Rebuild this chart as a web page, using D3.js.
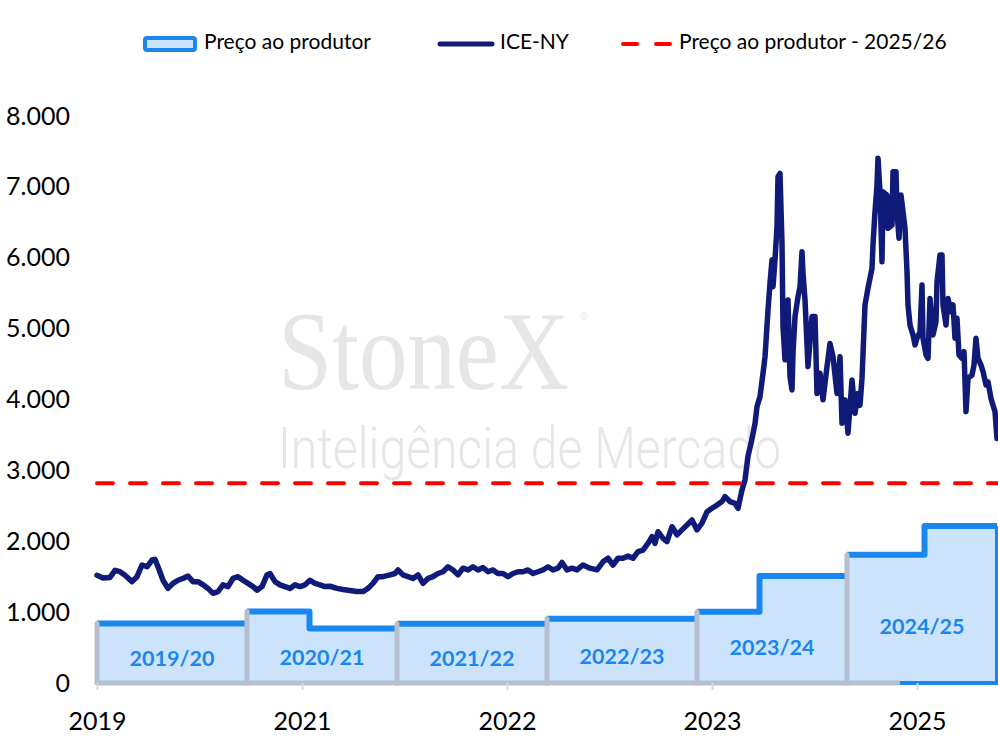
<!DOCTYPE html>
<html>
<head>
<meta charset="utf-8">
<script src="https://cdn.jsdelivr.net/npm/d3@7"></script>
<style>
  body { margin: 0; background: #fff; }
  svg { display: block; font-family: Lato, "Open Sans", sans-serif; }
</style>
</head>
<body>
<div id="chart"></div>
<script>
// x axis is measured in months since the start of the 2019/20 season
const seasons = ["2019/20", "2020/21", "2021/22", "2022/23", "2023/24", "2024/25"];
const seasonStart = [0, 12, 24, 36, 48, 60];

// producer price steps: [from month, to month, value]
const producerSteps = [
  [0, 12, 840],
  [12, 17, 1010], [17, 24, 770],
  [24, 36, 835],
  [36, 48, 905],
  [48, 53, 1005], [53, 60, 1510],
  [60, 66.2, 1810], [66.2, 72, 2215]
];

const target2526 = 2820;

const xTicks = [0, 16.4, 32.8, 49.2, 65.6];
const xLabels = ["2019", "2021", "2022", "2023", "2025"];
const yTicks = [0, 1000, 2000, 3000, 4000, 5000, 6000, 7000, 8000];

// ICE-NY: [month, value]
const iceNY = [
  [0,1520],[0.48,1480],[1.04,1490],[1.44,1590],[1.84,1570],[2.24,1520],[2.8,1430],[3.2,1500],[3.6,1665],[4.0,1640],
  [4.4,1735],[4.64,1745],[4.88,1640],[5.28,1450],[5.68,1335],[6.08,1405],[6.48,1450],[6.88,1475],[7.28,1510],[7.68,1430],
  [8.08,1430],[8.48,1385],[8.88,1335],[9.28,1265],[9.68,1290],[10.08,1385],[10.48,1360],[10.88,1475],[11.28,1500],[11.68,1450],
  [12.08,1405],[12.48,1360],[12.8,1310],[13.2,1360],[13.6,1525],[13.84,1545],[14.24,1430],[14.64,1385],[15.04,1360],[15.44,1335],
  [15.84,1385],[16.24,1360],[16.64,1385],[17.04,1450],[17.44,1405],[17.84,1385],[18.24,1360],[18.64,1365],[19.2,1335],[19.68,1320],
  [20.24,1305],[20.8,1290],[21.28,1290],[21.68,1335],[22.08,1405],[22.48,1500],[22.88,1500],[23.44,1525],[23.84,1545],[24.08,1595],
  [24.48,1525],[24.88,1500],[25.28,1475],[25.68,1525],[26.08,1405],[26.48,1475],[26.88,1500],[27.28,1545],[27.68,1570],[28.08,1640],
  [28.48,1595],[28.88,1525],[29.28,1620],[29.68,1595],[30.08,1640],[30.48,1595],[30.88,1630],[31.28,1570],[31.68,1595],[32.08,1545],
  [32.48,1545],[32.88,1500],[33.28,1545],[33.68,1570],[34.08,1570],[34.48,1595],[34.88,1545],[35.28,1570],[35.68,1595],[36.08,1640],
  [36.48,1595],[36.88,1620],[37.2,1700],[37.6,1595],[38.0,1620],[38.4,1595],[38.88,1665],[39.44,1620],[40.0,1595],[40.48,1710],
  [40.88,1760],[41.28,1665],[41.68,1760],[42.08,1760],[42.48,1790],[42.88,1760],[43.28,1855],[43.68,1875],[44.08,1970],[44.4,2065],
  [44.64,1970],[44.88,2135],[45.28,2040],[45.6,1995],[46.0,2205],[46.4,2090],[46.8,2160],[47.2,2230],[47.6,2300],[48.0,2160],
  [48.4,2255],[48.8,2415],[49.2,2465],[49.6,2510],[50.0,2560],[50.24,2630],[50.64,2560],[51.04,2535],[51.28,2465],[51.6,2725],
  [51.84,2865],[52.08,3200],[52.32,3380],[52.64,3660],[52.8,3900],[53.04,4040],[53.28,4370],[53.44,4600],[53.68,5260],[53.84,5640],
  [54.0,5970],[54.08,5590],[54.24,5970],[54.4,6440],[54.48,7145],[54.64,7190],[54.8,6200],[54.88,5030],[55.04,4560],[55.2,4790],
  [55.28,5405],[55.44,4320],[55.6,4135],[55.68,4650],[55.84,5170],[56.08,5450],[56.24,5590],[56.4,6085],[56.48,5780],[56.64,5405],
  [56.88,4465],[57.2,5170],[57.44,5170],[57.6,4085],[57.84,4370],[58.08,3995],[58.4,4465],[58.64,4790],[58.88,4605],[59.2,4085],
  [59.44,4605],[59.6,3665],[59.84,3995],[60.08,3525],[60.4,4275],[60.64,3805],[60.88,4085],[61.04,3920],[61.2,4300],[61.44,5335],
  [61.68,5570],[62.0,5850],[62.08,6180],[62.24,6650],[62.4,7025],[62.48,7405],[62.64,6930],[62.8,5945],[62.88,6930],[63.2,6885],
  [63.28,6415],[63.6,6460],[63.68,7215],[63.92,7215],[64.0,6650],[64.16,6275],[64.32,6885],[64.48,6650],[64.64,6415],[64.8,5805],
  [64.88,5335],[65.04,5050],[65.28,4910],[65.44,4770],[65.6,4865],[65.84,4955],[66.0,5615],[66.08,4865],[66.32,4630],[66.48,4580],
  [66.64,5425],[66.88,4910],[67.12,5100],[67.2,5660],[67.44,6040],[67.6,6040],[67.68,5335],[67.92,5050],[68.08,5425],[68.32,5240],
  [68.48,5335],[68.64,4865],[68.8,5145],[68.96,4630],[69.2,4580],[69.36,4675],[69.52,3830],[69.68,4300],[70.0,4345],[70.16,4485],
  [70.32,4865],[70.48,4580],[70.72,4485],[70.88,4395],[71.12,4205],[71.28,4250],[71.52,4015],[71.68,3920],[71.84,3830],[72.0,3450]
];

const W = 998, H = 740;
const colors = { fill: "#cce4fb", step: "#1a86ef", sep: "#b5bfd0", ice: "#101a78", red: "#ff0000", tick: "#d9d9d9" };

const svg = d3.select("#chart").append("svg").attr("width", W).attr("height", H);

const x = d3.scaleLinear().domain([0, 72]).range([97, 997]);
const y = d3.scaleLinear().domain([0, 8000]).range([683, 116]);

const locale = d3.formatLocale({ decimal: ",", thousands: ".", grouping: [3], currency: ["", ""] });
const fmt = locale.format(",d");

// watermark
const wm = svg.append("g").attr("fill", "#e5e6e7");
wm.append("text").attr("transform", "translate(278,389) scale(1,1.16)")
  .attr("font-family", "'Liberation Serif', 'DejaVu Serif', serif").attr("font-size", 97)
  .text("StoneX");
wm.append("text").attr("x", 580).attr("y", 320).attr("font-size", 11)
  .attr("font-family", "'Liberation Sans', sans-serif").text("®");
wm.append("text").attr("x", 278).attr("y", 468)
  .attr("font-family", "Roboto, 'Open Sans', sans-serif").attr("font-weight", 300)
  .attr("font-size", 58).attr("textLength", 503).attr("lengthAdjust", "spacingAndGlyphs")
  .text("Inteligência de Mercado");

// producer price as a step series
const stepPts = [];
producerSteps.forEach(s => { stepPts.push([s[0], s[2]]); stepPts.push([s[1], s[2]]); });

const area = d3.area().x(d => x(d[0])).y0(y(0)).y1(d => y(d[1]));
svg.append("path").datum(stepPts).attr("d", area).attr("fill", colors.fill);

// outline on the right end (blue), baseline (gray)
const baseSplit = 64.2;
svg.append("path")
  .attr("d", d3.line()([[x(baseSplit), y(0)], [x(72), y(0)], [x(72), y(2215)]]))
  .attr("fill", "none").attr("stroke", colors.step).attr("stroke-width", 4);
svg.append("line").attr("x1", x(0)).attr("x2", x(baseSplit)).attr("y1", y(0)).attr("y2", y(0))
  .attr("stroke", colors.sep).attr("stroke-width", 5);

// step top line per season
seasons.forEach((s, i) => {
  const pts = [];
  producerSteps.filter(p => p[0] >= seasonStart[i] && p[1] <= seasonStart[i] + 12)
    .forEach(p => { pts.push([p[0], p[2]]); pts.push([p[1], p[2]]); });
  svg.append("path").datum(pts)
    .attr("d", d3.line().x(d => x(d[0])).y(d => y(d[1])))
    .attr("fill", "none").attr("stroke", colors.step).attr("stroke-width", 6)
    .attr("stroke-linejoin", "round");
});

// gray separators at season starts
svg.selectAll(".sep").data(seasonStart).join("line")
  .attr("class", "sep")
  .attr("x1", d => x(d)).attr("x2", d => x(d))
  .attr("y1", y(0)).attr("y2", d => y(producerSteps.find(p => p[0] === d)[2]))
  .attr("stroke", colors.sep).attr("stroke-width", 5).attr("stroke-linecap", "round");

// season labels
seasons.forEach((s, i) => {
  const vals = producerSteps.filter(p => p[0] >= seasonStart[i] && p[1] <= seasonStart[i] + 12).map(p => p[2]);
  const avg = d3.mean(vals);
  svg.append("text")
    .attr("x", x(seasonStart[i] + 6)).attr("y", y(avg * 0.38))
    .attr("text-anchor", "middle").attr("dominant-baseline", "middle")
    .attr("font-size", 21.5).attr("font-weight", 700).attr("fill", colors.step)
    .text(s);
});

// ICE-NY line
svg.append("path").datum(iceNY)
  .attr("d", d3.line().x(d => x(d[0])).y(d => y(d[1])))
  .attr("fill", "none").attr("stroke", colors.ice).attr("stroke-width", 5.5)
  .attr("stroke-linejoin", "round").attr("stroke-linecap", "round");

// 2025/26 producer price
svg.append("line").attr("x1", x(0)).attr("x2", x(72)).attr("y1", y(target2526)).attr("y2", y(target2526))
  .attr("stroke", colors.red).attr("stroke-width", 4).attr("stroke-dasharray", "16,17")
  .attr("stroke-linecap", "round");

// axes
const yAxis = svg.append("g").attr("transform", "translate(73,0)")
  .call(d3.axisLeft(y).tickValues(yTicks).tickFormat(fmt).tickSize(0).tickPadding(3));
yAxis.select(".domain").remove();
yAxis.selectAll("text").attr("font-size", 25).attr("font-family", "Lato, sans-serif").attr("fill", "#000");

const xAxis = svg.append("g").attr("transform", `translate(0,${y(0)})`)
  .call(d3.axisBottom(x).tickValues(xTicks).tickFormat((d, i) => xLabels[i]).tickSize(7).tickPadding(22));
xAxis.select(".domain").remove();
xAxis.selectAll("line").attr("stroke", colors.tick).attr("stroke-width", 2);
xAxis.selectAll("text").attr("font-size", 25).attr("font-family", "Lato, sans-serif").attr("fill", "#000");

// legend
const lg = svg.append("g").attr("font-size", 21).attr("fill", "#000");
lg.append("rect").attr("x", 145).attr("y", 38).attr("width", 50).attr("height", 12).attr("rx", 2)
  .attr("fill", colors.fill).attr("stroke", colors.step).attr("stroke-width", 4);
lg.append("text").attr("x", 204).attr("y", 44).attr("dominant-baseline", "middle").text("Preço ao produtor");
lg.append("line").attr("x1", 440).attr("x2", 492).attr("y1", 44).attr("y2", 44)
  .attr("stroke", colors.ice).attr("stroke-width", 5).attr("stroke-linecap", "round");
lg.append("text").attr("x", 500).attr("y", 44).attr("dominant-baseline", "middle").text("ICE-NY");
lg.append("line").attr("x1", 623).attr("x2", 672).attr("y1", 44).attr("y2", 44)
  .attr("stroke", colors.red).attr("stroke-width", 4).attr("stroke-dasharray", "14,19")
  .attr("stroke-linecap", "round");
lg.append("text").attr("x", 679).attr("y", 44).attr("dominant-baseline", "middle").text("Preço ao produtor - 2025/26");
</script>
</body>
</html>
